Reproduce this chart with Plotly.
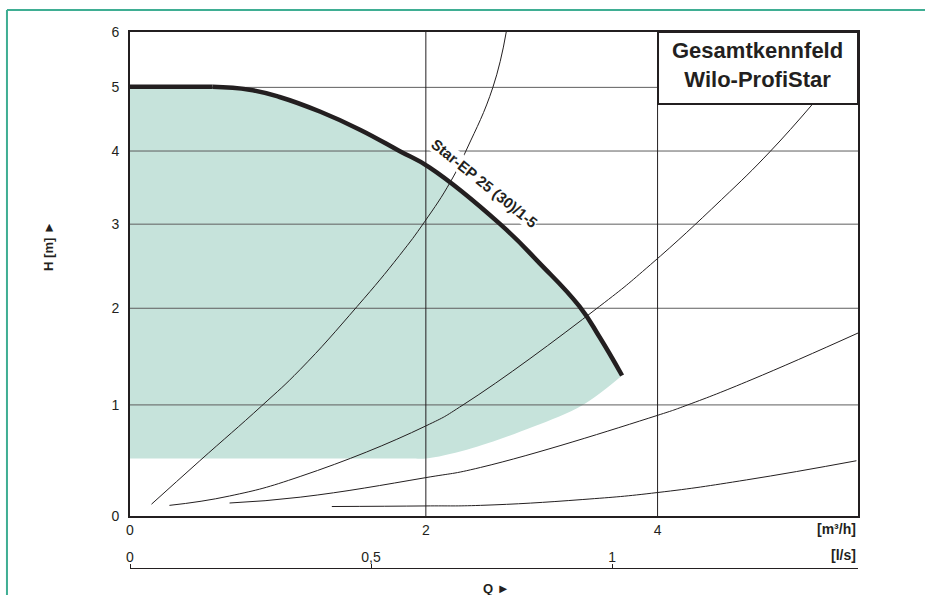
import numpy as np
import plotly.graph_objects as go

# ---------------- data ----------------
Q_TICKS = [0, 2, 4]                    # flow [m³/h]
H_TICKS = [0, 1, 2, 3, 4, 5, 6]        # head [m]
LS_TICKS = [0, 0.5, 1]                 # flow [l/s]
LS_LABELS = ["0", "0,5", "1"]
Q_MAX = 6.24
H_MAX = 6.0
LS_MAX = 1.51

# pump curve Star-EP 25 (30)/1-5 (upper edge of the field)
PUMP_Q = [0, 0.51, 0.75, 0.95, 1.23, 1.51, 1.80, 2.03, 2.59, 2.92, 3.27, 3.45, 3.66]
PUMP_H = [5.01, 5.01, 4.96, 4.84, 4.60, 4.32, 4.00, 3.76, 3.00, 2.52, 2.02, 1.69, 1.29]

# lower edge of the shaded operating field
FIELD_LOW_Q = [0, 1.0, 1.9, 2.00, 2.32, 2.86, 3.30, 3.66]
FIELD_LOW_H = [0.5, 0.5, 0.5, 0.5, 0.58, 0.79, 1.00, 1.29]

# system curves
SYS1_Q = [0.13, 0.43, 0.83, 1.09, 1.49, 1.80, 1.99, 2.19, 2.32, 2.53, 2.64]
SYS1_H = [0.10, 0.48, 0.99, 1.35, 2.02, 2.61, 3.03, 3.56, 4.03, 5.00, 6.00]
SYS2_Q = [0.24, 0.62, 1.09, 2.00, 2.29, 3.45, 3.93, 4.65, 5.18, 5.68]
SYS2_H = [0.09, 0.17, 0.34, 0.80, 1.00, 2.02, 2.50, 3.32, 3.99, 4.73]
SYS3_Q = [0.62, 1.09, 2.00, 2.43, 4.00, 4.30, 4.98, 6.24]
SYS3_H = [0.11, 0.16, 0.33, 0.42, 0.90, 1.00, 1.25, 1.73]
SYS4_Q = [1.31, 2.00, 2.43, 3.30, 4.00, 4.92, 6.22]
SYS4_H = [0.08, 0.085, 0.09, 0.14, 0.20, 0.31, 0.48]

# ---------------- the chart's compressed scales ----------------
RX, RY = 0.885, 0.87


def xt(q):
    return (1 - RX ** np.asarray(q, dtype=float)) / (1 - RX)


def yt(h):
    return (1 - RY ** np.asarray(h, dtype=float)) / (1 - RY)


INK = "#231f20"
TEAL_FILL = "#c6e3db"
TEAL_FRAME = "#3fae93"
FONT = "Liberation Sans, Arial, sans-serif"
SMOOTH = 1.3

fig = go.Figure()

# shaded field: lower edge (invisible) + upper edge filled to it
fig.add_trace(go.Scatter(x=xt(FIELD_LOW_Q), y=yt(FIELD_LOW_H), mode="lines",
                         line=dict(width=0, shape="spline", smoothing=1.0),
                         showlegend=False, hoverinfo="skip"))
fig.add_trace(go.Scatter(x=xt(PUMP_Q), y=yt(PUMP_H), mode="lines",
                         line=dict(width=0),
                         fill="tonexty", fillcolor=TEAL_FILL,
                         showlegend=False, hoverinfo="skip"))

# grid lines drawn above the shaded field
for h in H_TICKS[1:-1]:
    fig.add_trace(go.Scatter(x=xt([0, Q_MAX]), y=yt([h, h]), mode="lines",
                             line=dict(color="#5e5e5e", width=1),
                             showlegend=False, hoverinfo="skip"))
for q in Q_TICKS[1:]:
    fig.add_trace(go.Scatter(x=xt([q, q]), y=yt([0, H_MAX]), mode="lines",
                             line=dict(color=INK, width=1),
                             showlegend=False, hoverinfo="skip"))

# system curves
for sq, sh in [(SYS1_Q, SYS1_H), (SYS2_Q, SYS2_H), (SYS3_Q, SYS3_H), (SYS4_Q, SYS4_H)]:
    fig.add_trace(go.Scatter(x=xt(sq), y=yt(sh), mode="lines",
                             line=dict(color=INK, width=1, shape="spline", smoothing=SMOOTH),
                             showlegend=False, hoverinfo="skip"))

# pump curve: flat start + curved part
fig.add_trace(go.Scatter(x=xt(PUMP_Q[:2]), y=yt(PUMP_H[:2]), mode="lines",
                         line=dict(color=INK, width=4.5),
                         showlegend=False, hoverinfo="skip"))
fig.add_trace(go.Scatter(x=xt(PUMP_Q[1:]), y=yt(PUMP_H[1:]), mode="lines",
                         line=dict(color=INK, width=4.5, shape="spline", smoothing=SMOOTH),
                         showlegend=False, hoverinfo="skip"))

# l/s axis carrier
fig.add_trace(go.Scatter(x=LS_TICKS, y=[None] * len(LS_TICKS), xaxis="x2", yaxis="y",
                         mode="markers", showlegend=False, hoverinfo="skip"))

PLOT_BOTTOM = 52 / 536

x2_axis = dict(range=[0, LS_MAX], tickvals=LS_TICKS, ticktext=LS_LABELS,
               overlaying="x", anchor="free", position=0, side="top",
               showgrid=False, zeroline=False, showline=True, linecolor=INK,
               linewidth=1, ticks="outside", ticklen=4, tickwidth=1, tickcolor=INK,
               tickfont=dict(size=14, color=INK), fixedrange=True)

fig.update_layout(
    width=925, height=595,
    margin=dict(l=130, r=67, t=32, b=27),
    paper_bgcolor="white", plot_bgcolor="white",
    font=dict(family=FONT, color=INK, size=14),
    showlegend=False,
    xaxis=dict(range=[0, float(xt(Q_MAX))], tickvals=list(xt(Q_TICKS)),
               ticktext=[str(v) for v in Q_TICKS], showgrid=False, zeroline=False,
               showline=True, mirror=True, linecolor=INK, linewidth=2,
               ticks="", ticklabelstandoff=0, anchor="y",
               tickfont=dict(size=14, color=INK), fixedrange=True),
    yaxis=dict(domain=[PLOT_BOTTOM, 1], range=[0, float(yt(H_MAX))],
               tickvals=list(yt(H_TICKS)), ticktext=[str(v) for v in H_TICKS],
               showgrid=False, zeroline=False, showline=True, mirror=True,
               linecolor=INK, linewidth=2, ticks="", ticklabelstandoff=6,
               tickfont=dict(size=14, color=INK), fixedrange=True),
)
try:
    fig.update_layout(xaxis2=dict(x2_axis, ticklabelstandoff=-4))
except Exception:
    fig.update_layout(xaxis2=x2_axis)

# title box
fig.add_shape(type="rect", xref="x domain", yref="y domain",
              x0=0.7253, x1=1.0, y0=0.8512, y1=1.0,
              fillcolor="white", line=dict(color=INK, width=2), layer="above")
fig.add_annotation(xref="x domain", yref="y domain", x=0.8626, y=0.932,
                   text="<b>Gesamtkennfeld<br>Wilo-ProfiStar</b>", showarrow=False,
                   font=dict(size=22, color=INK, family=FONT), align="center",
                   xanchor="center", yanchor="middle")

# curve label
fig.add_annotation(xref="x domain", yref="y domain", x=0.4876, y=0.688,
                   text="<b>Star-EP 25 (30)/1-5</b>", showarrow=False, textangle=39,
                   font=dict(size=15, color=INK, family=FONT), bgcolor="white",
                   borderpad=0, xanchor="center", yanchor="middle")

# unit labels and axis titles
fig.add_annotation(xref="x domain", yref="y domain", x=1.0, y=-0.027,
                   text="<b>[m³/h]</b>", showarrow=False, xanchor="right", yanchor="middle",
                   font=dict(size=14, color=INK, family=FONT))
fig.add_annotation(xref="x domain", yref="y domain", x=1.0, y=-0.081,
                   text="<b>[l/s]</b>", showarrow=False, xanchor="right", yanchor="middle",
                   font=dict(size=14, color=INK, family=FONT))
fig.add_annotation(xref="x domain", yref="y domain", x=0.503, y=-0.1488,
                   text="<b>Q ►</b>", showarrow=False, xanchor="center", yanchor="middle",
                   font=dict(size=13, color=INK, family=FONT))
fig.add_annotation(xref="x domain", yref="y domain", x=-0.1113, y=0.558,
                   text="<b>H [m] ►</b>", showarrow=False, textangle=-90,
                   xanchor="center", yanchor="middle",
                   font=dict(size=13, color=INK, family=FONT))

# teal page frame (top and left)
fig.add_shape(type="line", xref="paper", yref="paper", x0=-0.169, x1=1.1,
              y0=1.041, y1=1.041, line=dict(color=TEAL_FRAME, width=2))
fig.add_shape(type="line", xref="paper", yref="paper", x0=-0.169, x1=-0.169,
              y0=1.041, y1=-0.07, line=dict(color=TEAL_FRAME, width=2))

fig.write_html("out.html")
